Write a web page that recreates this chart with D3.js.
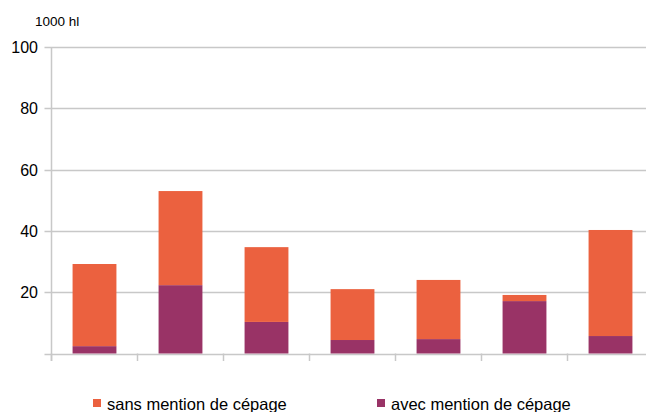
<!DOCTYPE html>
<html>
<head>
<meta charset="utf-8">
<title></title>
<style>
body { margin: 0; background: #fff; }
text { font-family: "Liberation Sans", Arial, sans-serif; fill: #000; }
</style>
</head>
<body>
<script src="https://cdn.jsdelivr.net/npm/d3@7"></script>
<script>
// données (1000 hl)
var categories = ["1", "2", "3", "4", "5", "6", "7"];
var avecMention = [2.4, 22.3, 10.3, 4.4, 4.7, 17.1, 5.7];
var sansMention = [26.8, 30.7, 24.4, 16.6, 19.3, 2.0, 34.6];
var yTicks = [0, 20, 40, 60, 80, 100];
var seriesNames = ["sans mention de cépage", "avec mention de cépage"];
var colors = { avec: "#993366", sans: "#eb613f" };

var width = 646, height = 412;
var svg = d3.select("body").append("svg")
    .attr("width", width).attr("height", height);

var x0 = 51.5, bandW = 86;
var x = d3.scaleBand()
    .domain(categories)
    .range([x0, x0 + bandW * categories.length])
    .paddingInner(0.49).paddingOuter(0.245);
var y = d3.scaleLinear().domain([0, 100]).range([353.5, 47]);

var rows = categories.map(function(c, i) {
    return { cat: c, avec: avecMention[i], sans: sansMention[i] };
});
var stack = d3.stack().keys(["avec", "sans"])(rows);

// grille
svg.append("g").selectAll("line")
    .data(yTicks).enter().append("line")
    .attr("x1", x0 - 7).attr("x2", width)
    .attr("y1", function(d) { return Math.round(y(d)) + 0.5; })
    .attr("y2", function(d) { return Math.round(y(d)) + 0.5; })
    .attr("stroke", "#c8c8c8").attr("stroke-width", 1.5);

// libellés axe y (pas de 0)
svg.append("g").selectAll("text")
    .data(yTicks.filter(function(d) { return d > 0; })).enter().append("text")
    .attr("x", 38).attr("y", function(d) { return y(d) + 6; })
    .attr("text-anchor", "end").attr("font-size", 16)
    .text(function(d) { return d; });

// barres
svg.append("g").selectAll("g")
    .data(stack).enter().append("g")
    .attr("fill", function(d) { return colors[d.key]; })
    .selectAll("rect")
    .data(function(d) { return d; }).enter().append("rect")
    .attr("x", function(d) { return x(d.data.cat); })
    .attr("width", x.bandwidth())
    .attr("y", function(d) { return y(d[1]); })
    .attr("height", function(d) { return y(d[0]) - y(d[1]); });

// axe y
svg.append("line")
    .attr("x1", x0).attr("x2", x0).attr("y1", 47).attr("y2", 361)
    .attr("stroke", "#c8c8c8").attr("stroke-width", 1.5);

// graduations axe x
svg.append("g").selectAll("line")
    .data(d3.range(categories.length + 1)).enter().append("line")
    .attr("x1", function(i) { return x0 + i * bandW; })
    .attr("x2", function(i) { return x0 + i * bandW; })
    .attr("y1", 353.5).attr("y2", 361)
    .attr("stroke", "#c8c8c8").attr("stroke-width", 1.5);

// unité
svg.append("text").attr("x", 35).attr("y", 26)
    .attr("font-size", 13.5).text("1000 hl");

// légende
var legX = [93, 377];
var leg = svg.append("g").selectAll("g")
    .data(seriesNames).enter().append("g");
leg.append("rect")
    .attr("x", function(d, i) { return legX[i]; })
    .attr("y", 399).attr("width", 8).attr("height", 8)
    .attr("fill", function(d, i) { return i === 0 ? colors.sans : colors.avec; });
leg.append("text")
    .attr("x", function(d, i) { return legX[i] + 14; })
    .attr("y", 410).attr("font-size", 16.5)
    .text(function(d) { return d; });
</script>
</body>
</html>
